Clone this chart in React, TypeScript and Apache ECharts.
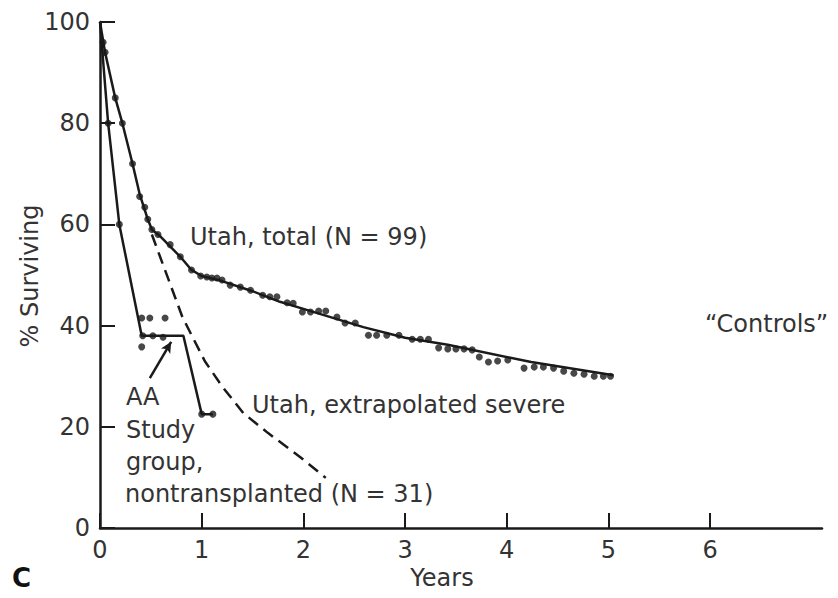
import React, { useEffect, useRef } from "react";
import * as echarts from "echarts";

// ---- data (years, % surviving) ----
const xTicks = [0, 1, 2, 3, 4, 5, 6];
const yTicks = [0, 20, 40, 60, 80, 100];

const utahTotalLine: [number, number][] = [
  [0, 100], [0.05, 94], [0.15, 85], [0.22, 80], [0.32, 72], [0.39, 66],
  [0.47, 61], [0.51, 59], [0.6, 57.5], [0.79, 53.6], [0.9, 51], [1.0, 49.8],
  [1.2, 48.8], [1.5, 46.8], [1.77, 44.7], [2.0, 43.3], [2.59, 39.7],
  [3.0, 37.6], [3.42, 36.2], [4.24, 32.8], [5.05, 30.2],
];

const utahTotalDots: [number, number][] = [
  [0.03, 96], [0.05, 94], [0.15, 85], [0.22, 80], [0.32, 72], [0.39, 65.5],
  [0.44, 63.4], [0.47, 61], [0.51, 59], [0.57, 58], [0.69, 56], [0.79, 53.6],
  [0.9, 51], [0.99, 49.8], [1.05, 49.6], [1.1, 49.4], [1.15, 49.4], [1.2, 49],
  [1.28, 48], [1.38, 47.6], [1.48, 47], [1.6, 46], [1.67, 45.7], [1.74, 45.7],
  [1.84, 44.5], [1.9, 44.4], [1.99, 42.7], [2.07, 42.7], [2.15, 42.9],
  [2.22, 42.9], [2.33, 41.7], [2.41, 40.5], [2.51, 40.5], [2.64, 38.1],
  [2.72, 38.1], [2.82, 38.1], [2.94, 38.1], [3.07, 37.3], [3.15, 37.3],
  [3.23, 37.3], [3.33, 35.6], [3.42, 35.4], [3.5, 35.4], [3.58, 35.4],
  [3.66, 35.2], [3.73, 33.8], [3.82, 32.8], [3.91, 33], [4.01, 33.2],
  [4.17, 31.6], [4.27, 31.8], [4.36, 31.8], [4.46, 31.6], [4.56, 31],
  [4.66, 30.6], [4.76, 30.4], [4.86, 30], [4.95, 30], [5.02, 30],
];

const utahExtrapolated: [number, number][] = [
  [0.51, 58], [0.81, 41.7], [1.03, 33], [1.2, 28], [1.41, 22.7],
  [1.65, 18.8], [1.97, 14], [2.22, 9.9],
];

const aaLine: [number, number][] = [
  [0, 100], [0.08, 80], [0.19, 60], [0.41, 38], [0.82, 38], [1.0, 22.5], [1.11, 22.5],
];

const aaDots: [number, number][] = [
  [0.08, 80], [0.19, 60], [0.41, 41.5], [0.49, 41.5], [0.64, 41.5],
  [0.42, 38], [0.52, 38], [0.62, 37.7], [0.41, 35.8], [1.0, 22.5], [1.11, 22.5],
];

const arrowFrom: [number, number] = [0.49, 29.6];
const arrowTo: [number, number] = [0.7, 36.8];

const INK = "#1a1a1a";
const TEXT = "#333333";
const FONT = "DejaVu Sans";

export default function App() {
  const ref = useRef<HTMLDivElement>(null);

  useEffect(() => {
    document.body.style.margin = "0";
    const chart = echarts.init(ref.current!, null, { renderer: "svg" });

    const txt = (text: string, x: number, y: number, extra: any = {}) => ({
      type: "text",
      style: {
        text,
        x,
        y,
        fill: TEXT,
        fontFamily: FONT,
        fontSize: 24,
        textAlign: "left",
        textVerticalAlign: "middle",
        ...extra,
      },
    });

    chart.setOption({
      animation: false,
      backgroundColor: "#ffffff",
      grid: { left: 100, right: 16, top: 22, bottom: 70 },
      xAxis: {
        type: "value",
        min: 0,
        max: 7.1,
        interval: 1,
        axisLine: { show: true, lineStyle: { color: INK, width: 2.5 } },
        axisTick: {
          show: true,
          inside: true,
          length: 15,
          customValues: xTicks,
          lineStyle: { color: INK, width: 2 },
        },
        axisLabel: {
          customValues: xTicks,
          color: TEXT,
          fontFamily: FONT,
          fontSize: 24,
          margin: 10,
        },
        splitLine: { show: false },
      },
      yAxis: {
        type: "value",
        min: 0,
        max: 100,
        interval: 20,
        axisLine: { show: true, lineStyle: { color: INK, width: 2.5 } },
        axisTick: {
          show: true,
          inside: true,
          length: 15,
          customValues: yTicks,
          lineStyle: { color: INK, width: 2 },
        },
        axisLabel: {
          customValues: yTicks,
          color: TEXT,
          fontFamily: FONT,
          fontSize: 24,
          margin: 10,
        },
        splitLine: { show: false },
      },
      series: [
        {
          type: "line",
          data: utahTotalLine,
          showSymbol: false,
          lineStyle: { color: INK, width: 2.5 },
          z: 3,
        },
        {
          type: "scatter",
          data: utahTotalDots,
          symbolSize: 7,
          itemStyle: { color: INK },
          z: 4,
        },
        {
          type: "line",
          data: utahExtrapolated,
          showSymbol: false,
          lineStyle: { color: INK, width: 2.5, type: [12, 7] },
          z: 3,
        },
        {
          type: "line",
          data: aaLine,
          showSymbol: false,
          lineStyle: { color: INK, width: 2.5 },
          z: 3,
          markLine: {
            silent: true,
            symbol: ["none", "arrow"],
            symbolSize: [8, 11],
            label: { show: false },
            lineStyle: { color: INK, width: 2.5, type: "solid" },
            data: [[{ coord: arrowFrom }, { coord: arrowTo }]],
          },
        },
        {
          type: "scatter",
          data: aaDots,
          symbolSize: 7,
          itemStyle: { color: INK },
          z: 4,
        },
      ],
      graphic: [
        txt("Utah, total (N = 99)", 190, 237),
        txt("\u201CControls\u201D", 705, 324),
        txt("Utah, extrapolated severe", 252, 405),
        txt("AA", 126, 397),
        txt("Study", 126, 430),
        txt("group,", 126, 462),
        txt("nontransplanted (N = 31)", 125, 494),
        txt("Years", 442, 578, { textAlign: "center" }),
        txt("C", 12, 578, { fontWeight: "bold", fontSize: 26, fill: "#111" }),
        {
          type: "text",
          x: 30,
          y: 276,
          rotation: Math.PI / 2,
          style: {
            text: "% Surviving",
            x: 0,
            y: 0,
            fill: TEXT,
            fontFamily: FONT,
            fontSize: 24,
            textAlign: "center",
            textVerticalAlign: "middle",
          },
        },
      ],
    });

    return () => chart.dispose();
  }, []);

  return <div ref={ref} style={{ width: 838, height: 598 }} />;
}
